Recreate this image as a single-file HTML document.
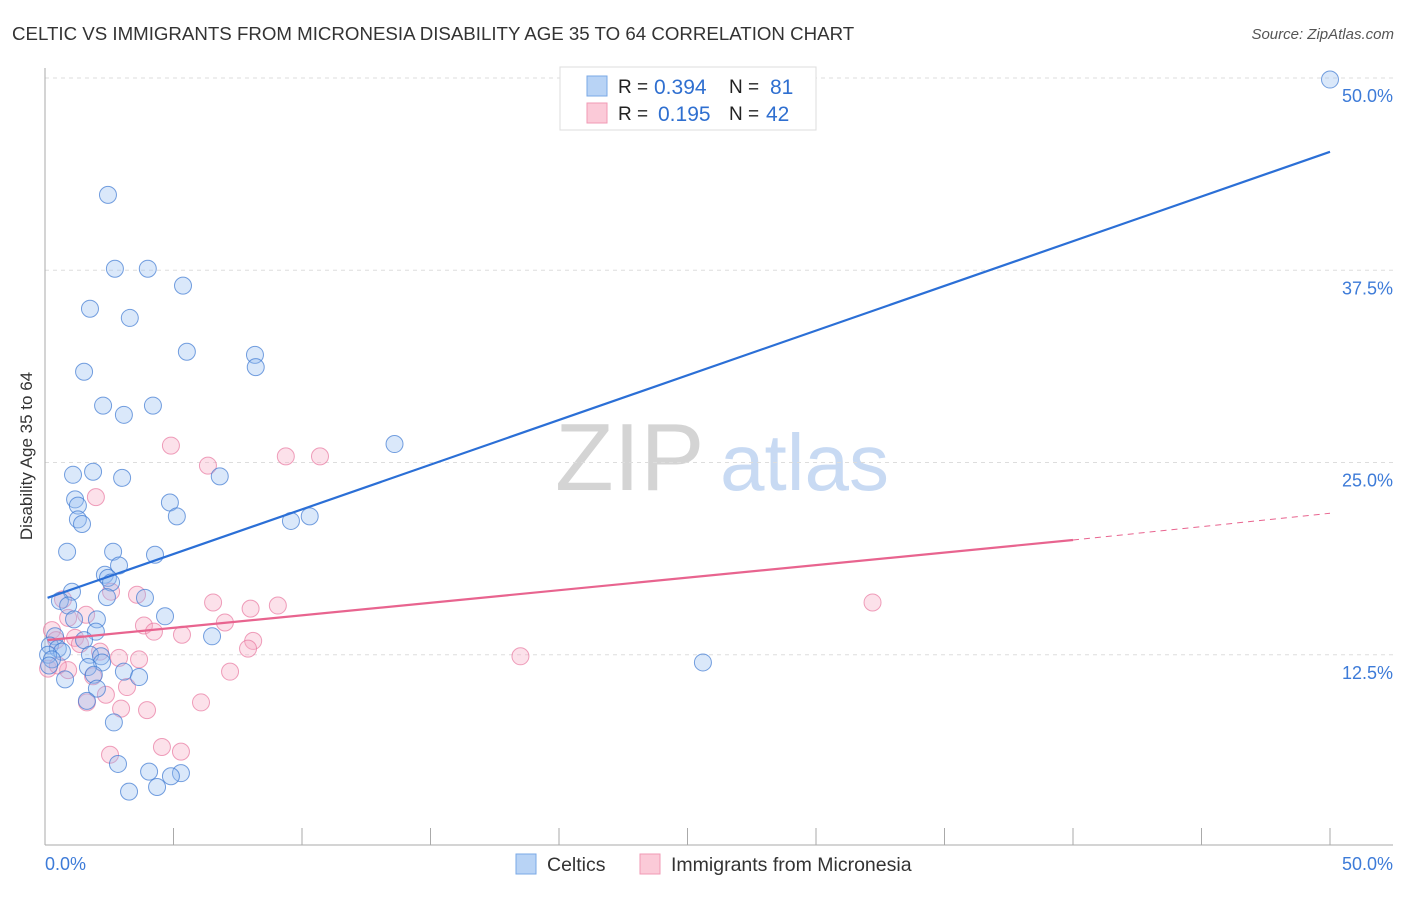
<!DOCTYPE html>
<html><head><meta charset="utf-8"><style>
body{margin:0;background:#fff;font-family:"Liberation Sans",sans-serif}
svg text{font-family:"Liberation Sans",sans-serif}
</style></head><body>
<svg id="chart" width="1406" height="892" xmlns="http://www.w3.org/2000/svg">
<text x="12" y="40" font-size="18.7" fill="#333">CELTIC VS IMMIGRANTS FROM MICRONESIA DISABILITY AGE 35 TO 64 CORRELATION CHART</text>
<text x="1394" y="39" font-size="15" fill="#555" font-style="italic" text-anchor="end">Source: ZipAtlas.com</text>
<text x="32" y="456" font-size="17" fill="#333" text-anchor="middle" transform="rotate(-90 32 456)">Disability Age 35 to 64</text>
<text x="555" y="490" font-size="96" fill="#d4d4d4" font-family="Liberation Serif">ZIP</text>
<text x="720" y="490" font-size="80" fill="#c8daf3">atlas</text>
<g id="grid"></g><g id="axes"></g><g id="pts"></g><g id="lines"></g>
<g>
<rect x="560" y="67" width="256" height="63" fill="#fff" stroke="#ddd"/>
<rect x="587" y="76" width="20" height="20" fill="#b8d3f5" stroke="#7aa8e6"/>
<rect x="587" y="103" width="20" height="20" fill="#fbcad8" stroke="#f09ab5"/>
<text x="618" y="93" font-size="19" fill="#222">R =</text>
<text x="654" y="94" font-size="21" fill="#2f6fd0">0.394</text>
<text x="729" y="93" font-size="19" fill="#222">N =</text>
<text x="770" y="94" font-size="21" fill="#2f6fd0">81</text>
<text x="618" y="120" font-size="19" fill="#222">R =</text>
<text x="658" y="121" font-size="21" fill="#2f6fd0">0.195</text>
<text x="729" y="120" font-size="19" fill="#222">N =</text>
<text x="766" y="121" font-size="21" fill="#2f6fd0">42</text>
</g>
<g>
<rect x="516" y="854" width="20" height="20" fill="#b8d3f5" stroke="#7aa8e6"/>
<text x="547" y="871" font-size="19.5" fill="#333">Celtics</text>
<rect x="640" y="854" width="20" height="20" fill="#fbcad8" stroke="#f09ab5"/>
<text x="671" y="871" font-size="19.5" fill="#333">Immigrants from Micronesia</text>
</g>
</svg>
<script>
const blueX=[2.45,2.72,4.0,5.37,1.75,3.3,5.52,8.17,8.2,1.52,2.26,4.2,3.07,13.6,1.87,1.09,3.0,6.8,1.17,4.86,1.28,5.13,10.3,9.57,1.28,1.44,0.86,2.65,4.28,2.88,2.33,2.45,2.57,1.05,2.41,3.89,0.58,0.9,4.67,2.02,1.13,1.98,6.5,1.52,0.39,0.19,0.5,0.66,0.12,0.27,0.16,1.75,2.18,2.22,1.67,25.6,3.07,3.66,1.9,0.78,2.02,1.63,2.68,2.84,4.05,5.29,4.9,4.36,3.27,50];
const blueY=[42.4,37.6,37.6,36.5,35.0,34.4,32.2,32.0,31.2,30.9,28.7,28.7,28.1,26.2,24.4,24.2,24.0,24.1,22.6,22.4,22.2,21.5,21.5,21.2,21.3,21.0,19.2,19.2,19.0,18.3,17.7,17.5,17.2,16.6,16.25,16.2,16.0,15.7,15.0,14.8,14.8,14.0,13.7,13.45,13.7,13.1,12.9,12.7,12.5,12.2,11.8,12.5,12.4,12.0,11.7,12.0,11.4,11.05,11.2,10.9,10.3,9.5,8.1,5.4,4.9,4.8,4.6,3.9,3.6,49.9];
const pinkX=[4.9,6.34,9.37,10.7,1.98,3.58,6.54,9.06,8.0,32.2,2.57,0.7,1.6,0.9,3.85,4.24,5.33,7.0,8.1,7.9,0.27,0.43,1.17,1.36,2.14,2.88,3.66,18.5,7.2,0.9,1.87,3.19,2.37,6.07,1.63,2.96,3.97,4.55,5.29,2.53,0.12,0.5];
const pinkY=[26.1,24.8,25.4,25.4,22.75,16.4,15.9,15.7,15.5,15.9,16.6,16.1,15.1,14.9,14.4,14.0,13.8,14.6,13.4,12.9,14.1,13.45,13.6,13.2,12.7,12.3,12.2,12.4,11.4,11.5,11.1,10.4,9.9,9.4,9.4,9.0,8.9,6.5,6.2,6.0,11.6,11.8];
const yTicks=[12.5,25,37.5,50];
const yTickLabels=["12.5%","25.0%","37.5%","50.0%"];
const xTicks=[0,5,10,15,20,25,30,35,40,45,50];
const blueTrend=[16.2,45.2];
const pinkTrend=[13.45,19.96,21.7];
const pinkTrendX=[0.1,40,50];
const X0=45,X1=1330,Y0=847,Y1=78;
const sx=v=>X0+(v/50)*(X1-X0);
const sy=v=>Y0-(v/50)*(Y0-Y1);
const NS="http://www.w3.org/2000/svg";
function mk(tag,attrs,parent){const e=document.createElementNS(NS,tag);for(const k in attrs)e.setAttribute(k,attrs[k]);document.getElementById(parent).appendChild(e);return e;}
yTicks.forEach((t,i)=>{
 const g=mk('line',{x1:45,x2:1393,y1:sy(t),y2:sy(t),stroke:'#ddd','stroke-dasharray':'4,4'},'grid');
 
 
 const l=mk('text',{x:1393,y:sy(t)+24,'font-size':18,fill:'#3d7bd8','text-anchor':'end'},'grid');
 l.textContent=yTickLabels[i];
 
 
});
const ya=mk('line',{x1:45,x2:45,y1:68,y2:845,stroke:'#aaa'},'axes');


const xa=mk('line',{x1:45,x2:1393,y1:845,y2:845,stroke:'#aaa'},'axes');


xTicks.forEach(t=>{
 const tk=mk('line',{x1:sx(t),x2:sx(t),y1:828,y2:845,stroke:'#aaa'},'axes');
 
 
});
const xl0=mk('text',{x:45,y:870,'font-size':18,fill:'#3d7bd8'},'axes');xl0.textContent='0.0%';


const xl1=mk('text',{x:1393,y:870,'font-size':18,fill:'#3d7bd8','text-anchor':'end'},'axes');xl1.textContent='50.0%';


pinkX.forEach((v,i)=>{
 const c=mk('circle',{cx:sx(v),cy:sy(pinkY[i]),r:8.5,fill:'rgba(246,170,195,0.35)',stroke:'rgba(232,120,160,0.7)','stroke-width':1},'pts');
 
 
});
blueX.forEach((v,i)=>{
 const c=mk('circle',{cx:sx(v),cy:sy(blueY[i]),r:8.5,fill:'rgba(150,190,240,0.35)',stroke:'rgba(60,120,210,0.7)','stroke-width':1},'pts');
 
 
});
const bl=mk('line',{x1:sx(0.1),y1:sy(blueTrend[0]),x2:sx(50),y2:sy(blueTrend[1]),stroke:'#2b6fd6','stroke-width':2.2},'lines');


const pl=mk('line',{x1:sx(pinkTrendX[0]),y1:sy(pinkTrend[0]),x2:sx(pinkTrendX[1]),y2:sy(pinkTrend[1]),stroke:'#e8648f','stroke-width':2.2},'lines');


const pd=mk('line',{x1:sx(pinkTrendX[1]),y1:sy(pinkTrend[1]),x2:sx(pinkTrendX[2]),y2:sy(pinkTrend[2]),stroke:'#e8648f','stroke-width':1,'stroke-dasharray':'6,5'},'lines');


</script>
</body></html>
